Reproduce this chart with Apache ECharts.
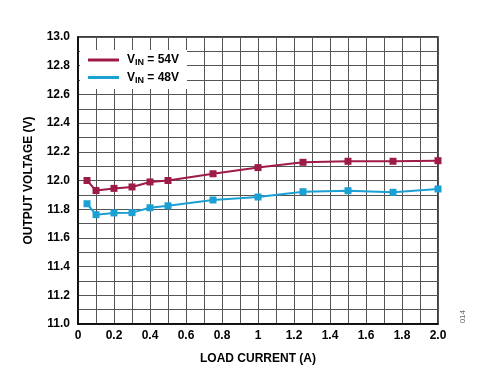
<!DOCTYPE html>
<html><head><meta charset="utf-8">
<script src="https://cdn.jsdelivr.net/npm/echarts@6/dist/echarts.min.js"></script>
<style>html,body{margin:0;padding:0;background:#fff}#c{width:484px;height:381px}</style>
</head><body><div id="c"></div>
<script>
const loadCurrent = [0.05, 0.1, 0.2, 0.3, 0.4, 0.5, 0.75, 1.0, 1.25, 1.5, 1.75, 2.0];
const vin54 = [12.00, 11.93, 11.945, 11.955, 11.99, 12.00, 12.047, 12.09, 12.127, 12.134, 12.134, 12.138];
const vin48 = [11.838, 11.762, 11.774, 11.776, 11.81, 11.824, 11.864, 11.885, 11.922, 11.929, 11.918, 11.941];
const seriesNames = ['VIN54', 'VIN48'];
const legendLabels = {VIN54: '54V', VIN48: '48V'};

const font = '"Liberation Sans", Arial, sans-serif';
const chart = echarts.init(document.getElementById('c'));
function pairs(ys){ return loadCurrent.map((x,i)=>[x, ys[i]]); }
chart.setOption({
  animation: false,
  grid: {left: 78, right: 46, top: 37, bottom: 57, show: true, borderColor: '#000', borderWidth: 1.5, backgroundColor: 'transparent'},
  legend: {
    left: 80, top: 50, orient: 'vertical', itemWidth: 31, itemHeight: 3, itemGap: 4,
    backgroundColor: '#fff', padding: [4, 8, 4, 8],
    icon: 'rect',
    textStyle: {fontFamily: font, fontWeight: 'bold', fontSize: 12, color: '#000',
      rich: {
        g: {width: 3},
        v: {fontFamily: font, fontWeight: 'bold', fontSize: 12, color: '#000'},
        s: {fontFamily: font, fontWeight: 'bold', fontSize: 9, color: '#000', verticalAlign: 'bottom', padding: [6,0,0,0]}
      }},
    formatter: n => '{g|}{v|V}{s|IN}{v| = ' + legendLabels[n] + '}',
    data: seriesNames
  },
  xAxis: {
    type: 'value', min: 0, max: 2, interval: 0.1,
    name: 'LOAD CURRENT (A)', nameLocation: 'middle', nameGap: 29,
    nameTextStyle: {fontFamily: font, fontWeight: 'bold', fontSize: 12, color: '#000'},
    axisLine: {show: true, lineStyle: {color: '#000', width: 1.5}},
    axisTick: {show: false},
    axisLabel: {fontFamily: font, fontWeight: 'bold', fontSize: 12, color: '#000', margin: 6,
      formatter: v => { const k = Math.round(v*10); if (k % 2) return ''; if (k === 0) return '0'; if (k === 10) return '1'; return (k/10).toFixed(1); }},
    splitLine: {show: true, lineStyle: {color: '#555', width: 1}}
  },
  yAxis: {
    type: 'value', min: 11, max: 13, interval: 0.1,
    name: 'OUTPUT VOLTAGE (V)', nameLocation: 'middle', nameGap: 43,
    nameTextStyle: {fontFamily: font, fontWeight: 'bold', fontSize: 12, color: '#000'},
    axisLine: {show: true, lineStyle: {color: '#000', width: 1.5}},
    axisTick: {show: false},
    axisLabel: {fontFamily: font, fontWeight: 'bold', fontSize: 12, color: '#000', margin: 8,
      formatter: v => { const k = Math.round(v*10); return k % 2 ? '' : (k/10).toFixed(1); }},
    splitLine: {show: true, lineStyle: {color: '#555', width: 1}}
  },
  graphic: [{type: 'text', left: 459, top: 310, rotation: Math.PI/2,
    style: {text: '014', fontFamily: font, fontSize: 8, fill: '#666'}}],
  series: [
    {name: 'VIN54', type: 'line', data: pairs(vin54), symbol: 'rect', symbolSize: 7,
     lineStyle: {color: '#9e1b45', width: 2}, itemStyle: {color: '#9e1b45'}, z: 3},
    {name: 'VIN48', type: 'line', data: pairs(vin48), symbol: 'rect', symbolSize: 7,
     lineStyle: {color: '#1aa0d2', width: 2}, itemStyle: {color: '#1aa0d2'}, z: 3}
  ]
});
</script></body></html>
